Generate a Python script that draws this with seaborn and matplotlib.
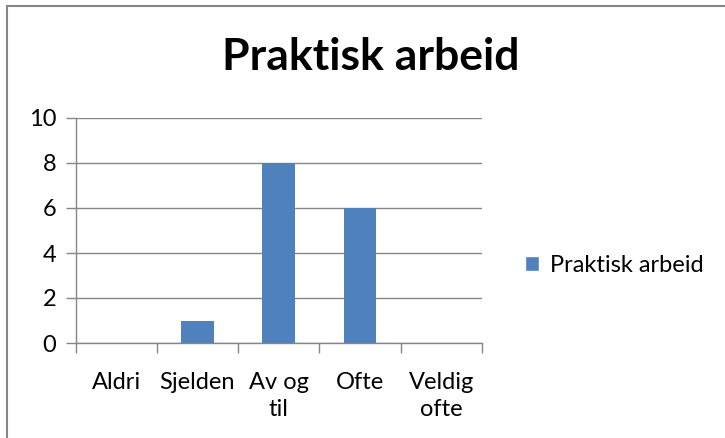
import matplotlib
matplotlib.use("Agg")
import matplotlib.pyplot as plt
from matplotlib.lines import Line2D
from matplotlib.patches import Patch
import seaborn as sns
import pandas as pd

categories = ["Aldri", "Sjelden", "Av og til", "Ofte", "Veldig ofte"]
tick_labels = ["Aldri", "Sjelden", "Av og\ntil", "Ofte", "Veldig\nofte"]
values = [0, 1, 8, 6, 0]
series_name = "Praktisk arbeid"
title = "Praktisk arbeid"

sns.set_theme(style="white")
plt.rcParams["font.family"] = ["Lato", "DejaVu Sans"]
plt.rcParams["text.color"] = "black"
plt.rcParams["xtick.color"] = "black"
plt.rcParams["ytick.color"] = "black"

df = pd.DataFrame({"cat": categories, "val": values})

fig = plt.figure(figsize=(7.25, 4.38), dpi=100)
ax = fig.add_axes([75.5 / 725, 1 - 343 / 438, (482 - 75.5) / 725, (343 - 118) / 438])

sns.barplot(data=df, x="cat", y="val", color="#4F81BD", width=0.4, saturation=1,
            linewidth=0, ax=ax)

gray = "#868686"
ax.set_ylim(0, 10)
ax.set_xlim(-0.5, len(categories) - 0.5)
ax.set_yticks([0, 2, 4, 6, 8, 10])
ax.yaxis.grid(True, color=gray, linewidth=1)
ax.set_axisbelow(True)
ax.set_xticks([i - 0.5 for i in range(len(categories) + 1)], minor=False)
ax.set_xticklabels([])
ax.set_xticks(range(len(categories)), minor=True)
ax.set_xticklabels(tick_labels, minor=True, fontsize=17, color="black", va="top", linespacing=1.35)
ax.tick_params(axis="x", which="major", length=7, width=1, color=gray, direction="out", bottom=True)
ax.tick_params(axis="x", which="minor", length=0, pad=21)
ax.tick_params(axis="y", length=7, width=1, color=gray, direction="out", left=True, labelsize=17,
               labelcolor="black", pad=7)
for lbl in ax.get_xticklabels(minor=True):
    lbl.set_multialignment("center")
ax.set_xlabel("")
ax.set_ylabel("")
for s in ["top", "right"]:
    ax.spines[s].set_visible(False)
for s in ["left", "bottom"]:
    ax.spines[s].set_color(gray)
    ax.spines[s].set_linewidth(1)

fig.text(371 / 725, 1 - 57 / 438, title, ha="center", va="center", fontsize=32,
         fontweight="bold", color="black")

fig.legend(handles=[Patch(facecolor="#4F81BD", label=series_name)], loc="center left",
           bbox_to_anchor=(525 / 725, 1 - 265 / 438), frameon=False, fontsize=17,
           handlelength=0.6, handleheight=0.6, handletextpad=0.45, borderpad=0, borderaxespad=0,
           labelcolor="black")

fig.add_artist(Line2D([7 / 725, 7 / 725], [0, 1 - 6 / 438], color=gray, linewidth=1.5))
fig.add_artist(Line2D([7 / 725, 1], [1 - 6 / 438, 1 - 6 / 438], color=gray, linewidth=1.5))

fig.savefig("out.png", dpi=100)
